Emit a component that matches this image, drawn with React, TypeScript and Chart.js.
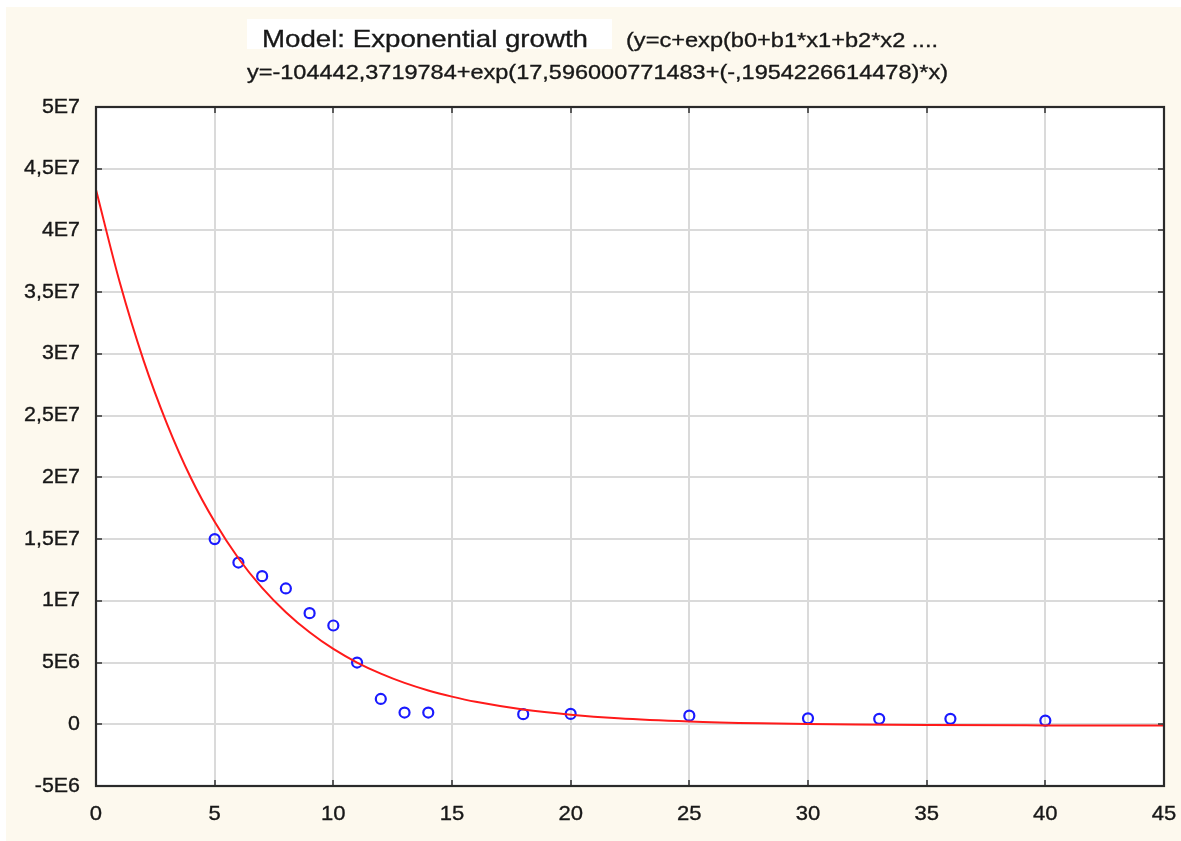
import React, { useEffect, useRef } from "react";
import { Chart, registerables } from "chart.js";

Chart.register(...registerables);

// ---- data ----
const xTicks = [0, 5, 10, 15, 20, 25, 30, 35, 40, 45];
const xTickLabels = ["0", "5", "10", "15", "20", "25", "30", "35", "40", "45"];
const yTicks = [-5e6, 0, 5e6, 1e7, 1.5e7, 2e7, 2.5e7, 3e7, 3.5e7, 4e7, 4.5e7, 5e7];
const yTickLabels = ["-5E6", "0", "5E6", "1E7", "1,5E7", "2E7", "2,5E7", "3E7", "3,5E7", "4E7", "4,5E7", "5E7"];

const obsX = [5, 6, 7, 8, 9, 10, 11, 12, 13, 14, 18, 20, 25, 30, 33, 36, 40];
const obsY = [15.0e6, 13.1e6, 12.0e6, 11.0e6, 9.0e6, 8.0e6, 5.0e6, 2.05e6, 0.95e6, 0.95e6, 0.82e6, 0.84e6, 0.7e6, 0.48e6, 0.44e6, 0.44e6, 0.3e6];

const fitX = [0, 1, 2, 3, 4, 5, 6, 7, 8, 9, 10, 11, 12, 13, 14, 15, 16, 18, 20, 22, 25, 28, 30, 32, 35, 40, 45];
const fitY = [43.3e6, 35.8e6, 29.5e6, 24.3e6, 19.95e6, 16.4e6, 13.45e6, 11.05e6, 9.08e6, 7.45e6, 6.1e6, 5.0e6, 4.1e6, 3.35e6, 2.74e6, 2.24e6, 1.82e6, 1.2e6, 0.78e6, 0.49e6, 0.23e6, 0.08e6, 0.02e6, -0.02e6, -0.06e6, -0.09e6, -0.1e6];

const titleLine1 = "Model: Exponential growth";
const titleLine1b = "(y=c+exp(b0+b1*x1+b2*x2 ....";
const titleLine2 = "y=-104442,3719784+exp(17,596000771483+(-,1954226614478)*x)";

const W = 1181;
const H = 841;
const FONT = "'Liberation Sans', Arial, sans-serif";
const TEXT = "#181818";

function fitText(ctx: CanvasRenderingContext2D, text: string, x: number, y: number, size: number, width: number) {
  ctx.save();
  ctx.font = `${size}px ${FONT}`;
  ctx.textAlign = "left";
  ctx.textBaseline = "alphabetic";
  const w = ctx.measureText(text).width;
  ctx.translate(x, y);
  ctx.scale(width / w, 1);
  ctx.fillStyle = TEXT;
  ctx.strokeStyle = TEXT;
  ctx.lineWidth = 0.35;
  ctx.fillText(text, 0, 0);
  ctx.strokeText(text, 0, 0);
  ctx.restore();
}

function stretchText(ctx: CanvasRenderingContext2D, text: string, x: number, y: number, size: number, sx: number, align: CanvasTextAlign) {
  ctx.save();
  ctx.font = `${size}px ${FONT}`;
  ctx.textAlign = align;
  ctx.textBaseline = "middle";
  ctx.translate(x, y);
  ctx.scale(sx, 1);
  ctx.fillStyle = TEXT;
  ctx.strokeStyle = TEXT;
  ctx.lineWidth = 0.35;
  ctx.fillText(text, 0, 0);
  ctx.strokeText(text, 0, 0);
  ctx.restore();
}

const decor = {
  id: "decor",
  beforeDraw(chart: any) {
    const ctx = chart.ctx as CanvasRenderingContext2D;
    const a = chart.chartArea;
    ctx.save();
    ctx.fillStyle = "#ffffff";
    ctx.fillRect(0, 0, W, H);
    ctx.fillStyle = "#fdf9ee";
    ctx.fillRect(6, 7, W - 6, H - 7);
    ctx.fillStyle = "#ffffff";
    ctx.fillRect(a.left, a.top, a.right - a.left, a.bottom - a.top);
    // white box behind first title
    ctx.fillRect(247, 19, 365, 30);
    ctx.restore();
    fitText(ctx, titleLine1, 262, 47, 24, 326);
    fitText(ctx, titleLine1b, 626, 47, 21, 312);
    fitText(ctx, titleLine2, 247, 79, 21, 701);
  },
  afterDatasetsDraw(chart: any) {
    const ctx = chart.ctx as CanvasRenderingContext2D;
    const a = chart.chartArea;
    const xs = chart.scales.x;
    const ys = chart.scales.y;
    ctx.save();
    ctx.strokeStyle = "#333333";
    ctx.lineWidth = 1.5;
    const tl = 6;
    xTicks.forEach((v) => {
      const px = Math.round(xs.getPixelForValue(v));
      ctx.beginPath();
      ctx.moveTo(px, a.top);
      ctx.lineTo(px, a.top + tl);
      ctx.moveTo(px, a.bottom);
      ctx.lineTo(px, a.bottom - tl);
      ctx.stroke();
    });
    yTicks.forEach((v) => {
      const py = Math.round(ys.getPixelForValue(v));
      ctx.beginPath();
      ctx.moveTo(a.left, py);
      ctx.lineTo(a.left + tl, py);
      ctx.moveTo(a.right, py);
      ctx.lineTo(a.right - tl, py);
      ctx.stroke();
    });
    ctx.lineWidth = 2.2;
    ctx.strokeStyle = "#2a2a2a";
    ctx.strokeRect(a.left, a.top, a.right - a.left, a.bottom - a.top);
    ctx.restore();

    xTicks.forEach((v, i) => {
      stretchText(ctx, xTickLabels[i], xs.getPixelForValue(v), 814, 21, 1.05, "center");
    });
    yTicks.forEach((v, i) => {
      stretchText(ctx, yTickLabels[i], 80, ys.getPixelForValue(v), 20, 1.07, "right");
    });
  },
};

export default function App() {
  const ref = useRef<HTMLCanvasElement | null>(null);
  useEffect(() => {
    if (!ref.current) return;
    const chart = new Chart(ref.current, {
      type: "scatter",
      data: {
        datasets: [
          {
            type: "line",
            label: "fit",
            data: fitX.map((x, i) => ({ x, y: fitY[i] })),
            borderColor: "#ff1a1a",
            borderWidth: 2,
            pointRadius: 0,
            fill: false,
            cubicInterpolationMode: "monotone",
          } as any,
          {
            type: "scatter",
            label: "obs",
            data: obsX.map((x, i) => ({ x, y: obsY[i] })),
            borderColor: "#1a1aff",
            backgroundColor: "rgba(255,255,255,0)",
            borderWidth: 2.2,
            pointRadius: 5,
            pointStyle: "circle",
          } as any,
        ],
      },
      options: {
        animation: false,
        responsive: false,
        devicePixelRatio: 1,
        layout: { padding: { left: 96, top: 107, right: 17, bottom: 55 } },
        plugins: { legend: { display: false }, tooltip: { enabled: false }, title: { display: false } },
        scales: {
          x: {
            type: "linear",
            min: 0,
            max: 45,
            afterBuildTicks: (s: any) => {
              s.ticks = xTicks.map((v) => ({ value: v }));
            },
            afterFit: (s: any) => {
              s.height = 0;
            },
            ticks: { display: false },
            grid: { color: "#dadada", lineWidth: 2, drawTicks: false },
            border: { display: false },
          },
          y: {
            type: "linear",
            min: -5e6,
            max: 5e7,
            afterBuildTicks: (s: any) => {
              s.ticks = yTicks.map((v) => ({ value: v }));
            },
            afterFit: (s: any) => {
              s.width = 0;
            },
            ticks: { display: false },
            grid: { color: "#dadada", lineWidth: 2, drawTicks: false },
            border: { display: false },
          },
        },
      },
      plugins: [decor],
    });
    return () => chart.destroy();
  }, []);
  return (
    <canvas
      ref={ref}
      width={W}
      height={H}
      style={{ position: "fixed", left: 0, top: 0, width: W, height: H, display: "block" }}
    />
  );
}
